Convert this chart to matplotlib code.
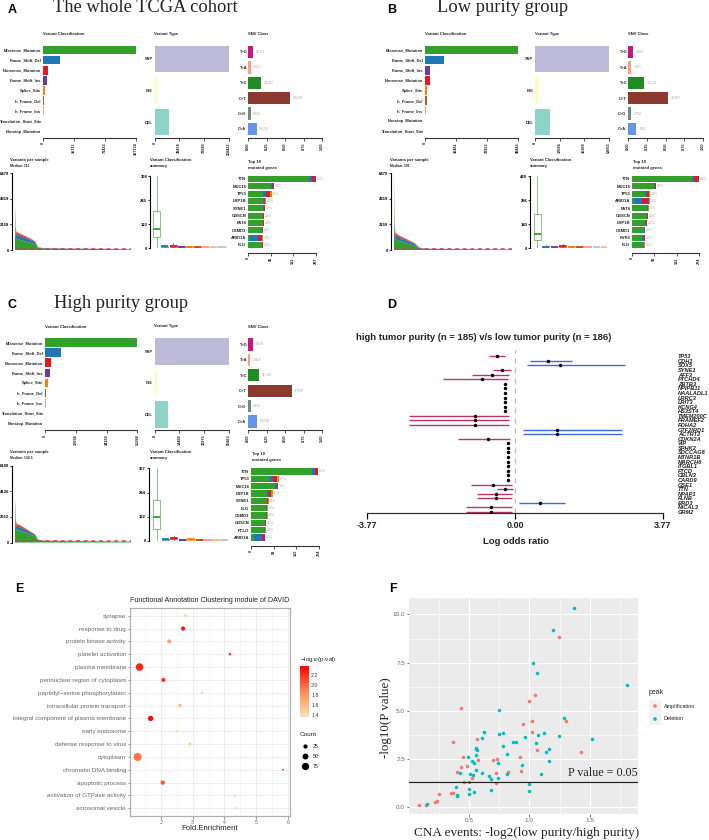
#coding=utf8
import numpy as np
import matplotlib
matplotlib.use('Agg')
import matplotlib.pyplot as plt
from matplotlib.colors import LinearSegmentedColormap, Normalize

plt.rcParams['font.family'] = 'Liberation Sans'
plt.rcParams['mathtext.default'] = 'regular'

W, H = 709, 840

# colours of the variant classes
class_colors = {'Missense_Mutation': '#33A02C', 'Frame_Shift_Del': '#1F78B4', 'Nonsense_Mutation': '#E31A1C',
                'Frame_Shift_Ins': '#6A3D9A', 'Splice_Site': '#FF7F00', 'In_Frame_Del': '#B15928',
                'In_Frame_Ins': '#FB9A99', 'Translation_Start_Site': '#FDBF6F', 'Nonstop_Mutation': '#A6CEE3'}
type_names = ['SNP', 'INS', 'DEL']
type_colors = ['#BEBADA', '#FFFFB3', '#8DD3C7']
snv_names = ['T>G', 'T>A', 'T>C', 'C>T', 'C>G', 'C>A']
snv_colors = ['#CE1480', '#FFA07A', '#228B22', '#8B3A2F', '#708C80', '#6495ED']
stack_names = ['Missense_Mutation', 'Frame_Shift_Del', 'Nonsense_Mutation', 'Frame_Shift_Ins', 'Splice_Site']

# panel A, whole cohort
a_class_names = ['Missense_Mutation', 'Frame_Shift_Del', 'Nonsense_Mutation', 'Frame_Shift_Ins', 'Splice_Site',
                 'In_Frame_Del', 'In_Frame_Ins', 'Translation_Start_Site', 'Nonstop_Mutation']
a_class_vals = [107134, 20000, 5700, 5000, 2800, 1600, 700, 200, 150]
a_class_ticks = [0, 35711, 71422, 107134]
a_type_vals = [118423, 4500, 22300]
a_type_ticks = [0, 39474, 78949, 118423]
a_snv_vals = [11371, 5553, 29107, 93249, 5855, 19135]
a_tmb_ticks = [0, 2159, 4319, 6479]
a_median = 111
a_rank = [0, 1, 3, 4, 6, 17, 33, 49, 65, 75, 91, 166, 273, 371]
a_miss = [4400, 2500, 1300, 1100, 950, 850, 720, 620, 500, 170, 135, 105, 85, 50]
a_fsd = [900, 600, 300, 300, 320, 300, 280, 230, 150, 30, 20, 15, 8, 5]
a_non = [300, 200, 120, 100, 110, 100, 90, 70, 50, 12, 8, 5, 4, 3]
a_fsi = [300, 200, 100, 100, 90, 90, 70, 50, 30, 8, 4, 3, 2, 1]
a_spl = [579, 300, 80, 100, 80, 60, 40, 30, 20, 10, 3, 2, 1, 1]
a_box_names = ['Missense_Mutation', 'Frame_Shift_Del', 'Nonsense_Mutation', 'Frame_Shift_Ins', 'Splice_Site',
               'In_Frame_Del', 'In_Frame_Ins', 'Translation_Start_Site', 'Nonstop_Mutation']
a_box_main = [0, 56, 96, 188, 368]
a_box_small = [8, 12, 6, 6, 6, 5, 5, 4, 4]
a_box_ticks = [0, 122, 245, 368]
a_genes = ['TTN', 'MUC16', 'TP53', 'LRP1B', 'SYNE1', 'OBSCN', 'FAT4', 'CSMD3', 'ARID1A', 'FLG']
a_gene_miss = [258, 98, 63, 64, 64, 62, 62, 58, 10, 58]
a_gene_fsd = [11, 4, 13, 3, 3, 2, 2, 2, 31, 2]
a_gene_non = [14, 3, 15, 5, 4, 2, 2, 3, 14, 2]
a_gene_fsi = [2, 6, 1, 0, 0, 0, 0, 0, 6, 0]
a_gene_spl = [2, 0, 8, 4, 2, 1, 1, 1, 3, 1]
a_gene_pct = ['55%', '34%', '40%', '28%', '20%', '24%', '23%', '24%', '24%', '22%']
a_gene_ticks = [0, 96, 191, 287]

# panel B, low purity
b_class_names = ['Missense_Mutation', 'Frame_Shift_Del', 'Frame_Shift_Ins', 'Nonsense_Mutation', 'Splice_Site',
                 'In_Frame_Del', 'In_Frame_Ins', 'Nonstop_Mutation', 'Translation_Start_Site']
b_class_vals = [49443, 10300, 2500, 2400, 1300, 800, 400, 100, 150]
b_class_ticks = [0, 16481, 32962, 49443]
b_type_vals = [53053, 2400, 10900]
b_type_ticks = [0, 17684, 35368, 53053]
b_snv_vals = [5183, 3291, 16132, 40367, 2752, 7901]
b_tmb_ticks = [0, 2159, 4319, 6479]
b_median = 101
b_rank = [0, 1, 2, 3, 5, 17, 33, 49, 65, 80, 100, 166, 273, 371]
b_miss = [4300, 2400, 1500, 1100, 900, 750, 620, 500, 380, 150, 90, 75, 60, 40]
b_fsd = [1000, 500, 400, 350, 300, 270, 230, 180, 130, 35, 15, 10, 6, 4]
b_non = [300, 200, 120, 110, 100, 90, 80, 60, 40, 10, 6, 4, 3, 2]
b_fsi = [300, 150, 100, 100, 90, 80, 60, 40, 30, 8, 3, 2, 2, 1]
b_spl = [579, 300, 100, 100, 80, 50, 40, 30, 20, 7, 3, 2, 1, 1]
b_box_names = ['Missense_Mutation', 'Frame_Shift_Del', 'Frame_Shift_Ins', 'Nonsense_Mutation', 'Splice_Site',
               'In_Frame_Del', 'In_Frame_Ins', 'Nonstop_Mutation', 'Translation_Start_Site']
b_box_main = [0, 46, 84, 205, 429]
b_box_small = [8, 6, 13, 7, 7, 6, 4, 4, 5]
b_box_ticks = [0, 143, 286, 429]
b_genes = ['TTN', 'MUC16', 'TP53', 'ARID1A', 'FAT4', 'OBSCN', 'LRP1B', 'CSMD1', 'RYR2', 'FLG']
b_gene_miss = [244, 91, 52, 7, 63, 60, 54, 51, 41, 47]
b_gene_fsd = [10, 4, 9, 34, 2, 2, 2, 1, 10, 2]
b_gene_non = [15, 2, 10, 20, 2, 2, 4, 1, 1, 2]
b_gene_fsi = [3, 2, 0, 7, 0, 0, 0, 0, 0, 0]
b_gene_spl = [2, 0, 4, 4, 1, 1, 1, 1, 1, 1]
b_gene_pct = ['60%', '30%', '24%', '24%', '20%', '20%', '24%', '22%', '20%', '21%']
b_gene_ticks = [0, 91, 182, 274]

# panel C, high purity
c_class_names = ['Missense_Mutation', 'Frame_Shift_Del', 'Nonsense_Mutation', 'Frame_Shift_Ins', 'Splice_Site',
                 'In_Frame_Del', 'In_Frame_Ins', 'Translation_Start_Site', 'Nonstop_Mutation']
c_class_vals = [51284, 8850, 3300, 2770, 1400, 800, 300, 100, 60]
c_class_ticks = [0, 17094, 34188, 51284]
c_type_vals = [55463, 2200, 9700]
c_type_ticks = [0, 18488, 36975, 55463]
c_snv_vals = [5830, 2364, 11749, 47268, 2833, 10238]
c_tmb_ticks = [0, 2063, 4126, 6189]
c_median = 134.5
c_rank = [0, 1, 3, 4, 6, 17, 33, 49, 65, 75, 91, 166, 273, 371]
c_miss = [4000, 2400, 1500, 1200, 1000, 950, 800, 650, 500, 180, 130, 110, 90, 60]
c_fsd = [900, 500, 300, 300, 300, 260, 220, 170, 110, 30, 15, 10, 6, 4]
c_non = [400, 200, 150, 120, 100, 90, 70, 50, 30, 10, 6, 4, 3, 2]
c_fsi = [300, 200, 100, 100, 80, 70, 50, 30, 20, 6, 3, 2, 1, 1]
c_spl = [589, 300, 100, 80, 70, 50, 30, 20, 10, 4, 2, 1, 1, 1]
c_box_names = a_class_names
c_box_main = [0, 60, 121, 208, 367]
c_box_small = [6, 12, 5, 6, 5, 5, 5, 4, 4]
c_box_ticks = [0, 122, 244, 367]
c_genes = ['TTN', 'TP53', 'MUC16', 'LRP1B', 'SYNE1', 'FLG', 'CSMD3', 'OBSCN', 'PCLO', 'ARID1A']
c_gene_miss = [246, 71, 97, 64, 63, 62, 62, 56, 54, 13]
c_gene_fsd = [11, 16, 8, 8, 2, 2, 2, 2, 2, 30]
c_gene_non = [11, 16, 2, 8, 4, 2, 2, 2, 2, 8]
c_gene_fsi = [2, 3, 3, 0, 0, 0, 0, 0, 0, 4]
c_gene_spl = [1, 8, 0, 7, 2, 1, 1, 2, 1, 3]
c_gene_pct = ['61%', '37%', '38%', '31%', '32%', '23%', '28%', '26%', '22%', '20%']
c_gene_ticks = [0, 91, 182, 274]

# panel D, forest plot
d_genes = ['TP53', 'CDH1', 'SOX5', 'SYNE1', 'AFF3', 'PTCHD4', 'ZBTB3', 'NPIPB11', 'NAALADL1', 'LRRC3', 'LRIT3', 'KCNG4',
           'HS3ST4', 'TMEM200C', 'PRAMEF2', 'PDHA2', 'GTF2IRD1', 'ACTRT2', 'CDKN2A', 'VIP', 'SPHK2', 'SDCCAG8', 'MTNR1B',
           'MARCH6', 'ITGBL1', 'FTCD', 'CBLN3', 'CARD9', 'GSE1', 'TTN', 'NPAP1', 'FLNB', 'BRD3', 'MICAL3', 'GRM2']
d_or = [-0.45, 0.85, 1.14, -0.33, -0.58, -0.845, -0.25, -0.25, -0.25, -0.25, -0.25, -0.25, -0.25, -1.02, -1.02, -1.02,
        1.07, 1.07, -0.70, -0.17, -0.17, -0.17, -0.17, -0.17, -0.17, -0.17, -0.17, -0.17, -0.56, -0.25, -0.495, -0.495,
        0.63, -0.605, -0.605]
d_low = [-0.66, 0.37, 0.30, -0.56, -1.09, -1.83, None, None, None, None, None, None, None, -2.69, -2.69, -2.69,
         0.20, 0.20, -1.46, None, None, None, None, None, None, None, None, None, -1.13, -0.45, -0.96, -0.96,
         0.11, -1.245, -1.245]
d_high = [-0.25, 1.46, 2.80, -0.10, -0.145, -0.17, None, None, None, None, None, None, None, -0.145, -0.145, -0.145,
          2.72, 2.72, -0.12, None, None, None, None, None, None, None, None, None, -0.085, -0.04, -0.07, -0.07,
          1.27, -0.077, -0.077]

# panel E, DAVID clusters
e_terms = ['synapse', 'response to drug', 'protein kinase activity', 'platelet activation', 'plasma membrane',
           'perinuclear region of cytoplasm', 'peptidyl\u2212serine phosphorylation', 'intracellular protein transport',
           'integral component of plasma membrane', 'early endosome', 'defense response to virus', 'cytoplasm',
           'chromatin DNA binding', 'apoptotic process', 'activation of GTPase activity', 'acrosomal vesicle']
e_fold = [2.78, 2.70, 2.26, 4.17, 1.33, 2.08, 3.29, 2.60, 1.68, 2.51, 2.91, 1.27, 5.84, 2.06, 4.33, 4.37]
e_logp = [1.4, 2.3, 1.75, 2.15, 2.25, 2.2, 1.45, 1.6, 2.35, 1.4, 1.5, 1.95, 2.0, 2.05, 1.45, 1.45]
e_count = [15, 25, 22, 10, 80, 25, 8, 15, 40, 12, 12, 90, 6, 27, 7, 6]
e_count_keys = [25, 50, 75]

# panel F, CNA events
f_amp_x = [1.243, 1.05, 1.0, 0.436, 0.95, 1.30, 1.02, 1.02, 0.566, 0.37, 1.06, 1.43, 0.447, 0.923, 0.577, 0.735, 0.696,
           0.486, 0.436, 0.40, 0.727, 0.823, 0.931, 0.525, 0.497, 0.461, 0.724, 0.251, 0.351, 0.365, 0.235, 0.215,
           0.144, 0.086]
f_amp_y = [8.84, 5.83, 5.53, 5.14, 4.33, 4.48, 4.48, 3.91, 3.53, 3.38, 2.95, 2.86, 2.60, 2.60, 2.47, 2.50, 2.45,
           2.12, 2.07, 1.83, 1.79, 1.83, 1.88, 1.50, 1.31, 1.33, 1.24, 0.69, 0.72, 0.74, 0.34, 0.26,
           0.14, 0.14]
f_del_x = [1.373, 1.199, 1.028, 1.061, 1.812, 0.746, 1.29, 0.624, 0.749, 0.782, 0.605, 0.961, 1.072, 1.124, 1.243, 1.519,
           1.052, 0.782, 0.867, 0.887, 0.558, 0.561, 0.566, 0.818, 1.135, 1.166, 0.489, 0.558, 0.522, 0.541, 0.738,
           0.936, 1.163, 0.558, 0.608, 0.428, 0.506, 0.53, 1.10, 0.815, 0.669, 0.738, 0.68, 1.0, 0.395, 0.497, 0.685,
           1.0, 0.503, 0.544, 0.403, 0.403, 0.149]
f_del_y = [10.31, 9.17, 7.48, 6.95, 6.34, 5.05, 4.62, 3.90, 3.78, 3.84, 3.57, 3.66, 3.74, 3.86, 3.67, 3.55,
           3.31, 3.17, 3.36, 3.40, 3.09, 3.03, 2.95, 2.78, 2.84, 3.0, 2.62, 2.69, 2.41, 2.31, 2.29,
           2.21, 2.40, 1.91, 1.79, 1.76, 1.74, 1.69, 1.74, 1.72, 1.62, 1.53, 1.45, 1.22, 1.03, 0.95, 0.90,
           0.83, 0.67, 0.78, 0.62, 0.59, 0.19]
f_cut = 1.3

fig = plt.figure(figsize=(W / 100.0, H / 100.0), dpi=100)


# axes from pixel box of the picture
def axpx(x0, y0, x1, y1):
    return fig.add_axes([x0 / W, 1 - y1 / H, (x1 - x0) / W, (y1 - y0) / H])


# axes whose integer y values are rows at given pixels
def rowax(x0, x1, yfirst, ylast, n, ytop, ybot):
    ax = axpx(x0, ytop, x1, ybot)
    step = (ylast - yfirst) / float(n - 1)
    ax.set_ylim((ybot - yfirst) / step, (ytop - yfirst) / step)
    for s in ['top', 'left', 'right']:
        ax.spines[s].set_visible(False)
    ax.spines['bottom'].set_linewidth(0.8)
    ax.spines['bottom'].set_color('#333333')
    ax.patch.set_alpha(0)
    return ax


def smallticks(ax, ticks):
    ax.set_xticks(ticks)
    ax.set_xticklabels([str(t) for t in ticks], rotation=90, fontsize=2.8, fontweight='bold', color='#222222')
    ax.tick_params(axis='x', length=2, width=0.6, pad=1, color='#333333')
    ax.tick_params(axis='y', length=0, pad=1.2, labelsize=2.9, labelcolor='#222222')
    for lab in ax.get_yticklabels():
        lab.set_fontweight('bold')


# one block of maf summary, box holds the pixel places
def maf_block(box, class_names, class_vals, class_ticks, type_vals, type_ticks, snv_vals, tmb_ticks, median,
              rank, stacks, box_names, box_main, box_small, box_ticks, genes, gene_parts, gene_pct, gene_ticks):
    dy = box['dy']
    # variant classification
    x0, x1 = box['cls']
    ax = rowax(x0, x1, 50 + dy, 131 + dy, 9, 44 + dy, 138 + dy)
    ax.barh(range(9), class_vals, height=0.84, color=[class_colors[n] for n in class_names])
    ax.set_xlim(0, class_ticks[-1])
    ax.set_yticks(range(9))
    ax.set_yticklabels(class_names)
    smallticks(ax, class_ticks)
    # variant type
    x0, x1 = box['typ']
    ax = rowax(x0, x1, 59 + dy, 122 + dy, 3, 44 + dy, 138 + dy)
    ax.barh(range(3), type_vals, height=0.84, color=type_colors)
    ax.set_xlim(0, type_ticks[-1])
    ax.set_yticks(range(3))
    ax.set_yticklabels(type_names)
    smallticks(ax, type_ticks)
    # snv class
    x0, x1 = box['snv']
    ax = rowax(x0, x1, 52 + dy, 129 + dy, 6, 44 + dy, 138 + dy)
    frac = np.array(snv_vals, dtype=float) / sum(snv_vals)
    ax.barh(range(6), frac, height=0.8, color=snv_colors)
    ax.set_xlim(0, 1)
    for i in range(6):
        ax.text(frac[i] + 0.035, i, str(snv_vals[i]), fontsize=2.6, color='#aaaaaa', va='center')
    ax.set_yticks(range(6))
    ax.set_yticklabels(snv_names)
    ticks = [0, 0.25, 0.5, 0.75, 1]
    smallticks(ax, ticks)
    ax.set_xticklabels(['0.00', '0.25', '0.50', '0.75', '1.00'])
    # variants per sample
    x0, x1 = box['tmb']
    ax = axpx(x0, 173.3 + dy, x1, 250 + dy)
    ax.stackplot(rank, *stacks, colors=[class_colors[n] for n in stack_names], linewidth=0)
    ax.axhline(median, color='#D6336C', lw=1.1, ls=(0, (2.5, 2.5)), clip_on=False, zorder=5)
    ax.set_xlim(0, rank[-1])
    ax.set_ylim(0, tmb_ticks[-1])
    for s in ['top', 'right', 'bottom']:
        ax.spines[s].set_visible(False)
    ax.spines['left'].set_position(('outward', 2))
    ax.spines['left'].set_linewidth(0.8)
    ax.set_xticks([])
    ax.set_yticks(tmb_ticks)
    ax.set_yticklabels([str(t) for t in tmb_ticks], fontsize=3.0, fontweight='bold')
    ax.tick_params(axis='y', length=1.5, width=0.6, pad=0.5)
    # classification summary
    x0, x1, first, last = box['box']
    ax = axpx(x0, 176 + dy, x1, 248 + dy)
    step = (last - first) / 8.0
    stats = [dict(whislo=box_main[0], q1=box_main[1], med=box_main[2], q3=box_main[3], whishi=box_main[4], fliers=[])]
    for m in box_small:
        stats.append(dict(whislo=1, q1=m * 0.5, med=m, q3=m * 1.4, whishi=m * 2, fliers=[]))
    for i in range(9):
        c = class_colors[box_names[i]]
        b = ax.bxp([stats[i]], positions=[i + 1], widths=0.86, showcaps=False, showfliers=False, patch_artist=True)
        if i == 0:
            b['boxes'][0].set(facecolor='white', edgecolor=c, lw=0.7, alpha=0.6)
            b['whiskers'][0].set(color=c, lw=0.7, alpha=0.6)
            b['whiskers'][1].set(color=c, lw=0.7, alpha=0.6)
        else:
            b['boxes'][0].set(facecolor=c, edgecolor=c, lw=0.5, alpha=0.75)
            b['whiskers'][0].set(color=c, lw=0.5)
            b['whiskers'][1].set(color=c, lw=0.5)
        b['medians'][0].set(color=c, lw=1.3)
    ax.set_xlim(1 - (first - x0) / step, 1 + (x1 - first) / step)
    ax.set_ylim(0, box_ticks[-1])
    for s in ['top', 'right', 'bottom']:
        ax.spines[s].set_visible(False)
    ax.spines['left'].set_linewidth(0.8)
    ax.set_xticks([])
    ax.set_yticks(box_ticks)
    ax.set_yticklabels([str(t) for t in box_ticks], fontsize=3.0, fontweight='bold')
    ax.tick_params(axis='y', length=1.5, width=0.6, pad=0.5)
    # top genes
    x0, x1 = box['gene']
    ax = rowax(x0, x1, 179 + dy, 245 + dy, 10, 174 + dy, 253 + dy)
    left = np.zeros(10)
    for name, part in zip(stack_names, [gene_parts[0], gene_parts[1], gene_parts[2], gene_parts[3], gene_parts[4]]):
        ax.barh(range(10), part, left=left, height=0.86, color=class_colors[name])
        left = left + np.array(part)
    for i in range(10):
        ax.text(left[i] + gene_ticks[-1] * 0.01, i, gene_pct[i], fontsize=2.6, color='#aaaaaa', va='center')
    ax.set_xlim(0, gene_ticks[-1])
    ax.set_yticks(range(10))
    ax.set_yticklabels(genes)
    smallticks(ax, gene_ticks)
    for lab in ax.get_yticklabels():
        lab.set_fontsize(3.0)


box_a = dict(dy=0, cls=(43, 136), typ=(154.5, 229), snv=(248, 322), tmb=(14.7, 131), box=(150, 228, 156.7, 222), gene=(248, 316))
box_b = dict(dy=0, cls=(425, 518), typ=(535, 609), snv=(628, 703), tmb=(394, 512), box=(530, 607, 537.3, 605), gene=(632, 699))
box_c = dict(dy=292.5, cls=(45, 137.5), typ=(154.5, 229), snv=(248, 322), tmb=(14.7, 131), box=(148.5, 228, 156.7, 225), gene=(251, 319))

maf_block(box_a, a_class_names, a_class_vals, a_class_ticks, a_type_vals, a_type_ticks, a_snv_vals, a_tmb_ticks, a_median,
          a_rank, [a_miss, a_fsd, a_non, a_fsi, a_spl], a_box_names, a_box_main, a_box_small, a_box_ticks,
          a_genes, [a_gene_miss, a_gene_fsd, a_gene_non, a_gene_fsi, a_gene_spl], a_gene_pct, a_gene_ticks)
maf_block(box_b, b_class_names, b_class_vals, b_class_ticks, b_type_vals, b_type_ticks, b_snv_vals, b_tmb_ticks, b_median,
          b_rank, [b_miss, b_fsd, b_non, b_fsi, b_spl], b_box_names, b_box_main, b_box_small, b_box_ticks,
          b_genes, [b_gene_miss, b_gene_fsd, b_gene_non, b_gene_fsi, b_gene_spl], b_gene_pct, b_gene_ticks)
maf_block(box_c, c_class_names, c_class_vals, c_class_ticks, c_type_vals, c_type_ticks, c_snv_vals, c_tmb_ticks, c_median,
          c_rank, [c_miss, c_fsd, c_non, c_fsi, c_spl], c_box_names, c_box_main, c_box_small, c_box_ticks,
          c_genes, [c_gene_miss, c_gene_fsd, c_gene_non, c_gene_fsi, c_gene_spl], c_gene_pct, c_gene_ticks)

# panel D
ax = rowax(367, 663, 356.3, 512, 35, 350, 513)
ax.set_xlim(-3.77, 3.77)
ax.axvline(0, color='#bbbbbb', lw=0.9, ls=(0, (4, 4)))
for i in range(35):
    if d_low[i] is not None:
        col = '#4169E1' if d_or[i] > 0 else '#BC3468'
        ax.plot([d_low[i], d_high[i]], [i, i], color=col, lw=1.0, solid_capstyle='butt')
    ax.plot(d_or[i], i, 'o', color='black', ms=2.5, mew=0, zorder=3)
ax.set_xticks([-3.77, 0, 3.77])
ax.set_xticklabels(['-3.77', '0.00', '3.77'], fontsize=6.5, fontweight='bold', color='#222222')
ax.tick_params(axis='x', length=4, width=0.9, pad=2)
ax.spines['bottom'].set_linewidth(0.9)
ax.yaxis.tick_right()
ax.set_yticks(range(35))
ax.set_yticklabels(d_genes, fontsize=4.1, fontweight='bold', fontstyle='italic', color='#222222')
ax.tick_params(axis='y', length=0, pad=10.8)

# panel E
cmap_e = LinearSegmentedColormap.from_list('e', ['#FCE3B4', '#FF8A50', '#FF0000'])
norm_e = Normalize(1.36, 2.38)
ax = axpx(130, 608, 290, 816)
ypos = np.arange(16)
ax.scatter(e_fold, ypos, s=np.array(e_count) * 0.37, c=e_logp, cmap=cmap_e, norm=norm_e, linewidths=0, zorder=3)
ax.set_xlim(1.03, 6.06)
ax.set_ylim(15.6, -0.6)
ax.set_xticks([2, 3, 4, 5, 6])
ax.set_xticks([1.5, 2.5, 3.5, 4.5, 5.5], minor=True)
ax.set_yticks(ypos)
ax.set_yticklabels(e_terms)
ax.grid(True, which='major', color='#ebebeb', lw=0.6)
ax.grid(True, which='minor', axis='x', color='#f2f2f2', lw=0.4)
ax.set_axisbelow(True)
ax.tick_params(axis='both', which='major', labelsize=4.5, labelcolor='#666666', color='#666666', length=1.8, width=0.5, pad=1)
ax.tick_params(axis='x', labelsize=3.8)
ax.tick_params(axis='both', which='minor', length=0)
for s in ax.spines.values():
    s.set_color('#b0b0b0')
    s.set_linewidth(0.9)
cax = axpx(300, 666, 309, 717)
sm = plt.cm.ScalarMappable(norm=norm_e, cmap=cmap_e)
cb = fig.colorbar(sm, cax=cax)
cb.set_ticks([1.4, 1.6, 1.8, 2.0, 2.2])
cb.ax.tick_params(length=0, labelsize=3.8, pad=1.5, labelcolor='#333333')
cb.outline.set_visible(False)

# panel F
ax = axpx(409, 598, 638, 814)
ax.set_facecolor('#EBEBEB')
ax.scatter(f_amp_x, f_amp_y, s=6.5, color='#F8766D', linewidths=0, zorder=3)
ax.scatter(f_del_x, f_del_y, s=6.5, color='#00BFC4', linewidths=0, zorder=3)
ax.axhline(f_cut, color='#222222', lw=0.9, zorder=4)
ax.set_xlim(0.003, 1.9)
ax.set_ylim(-0.35, 10.85)
ax.set_xticks([0.5, 1.0, 1.5])
ax.set_xticks([0.25, 0.75, 1.25, 1.75], minor=True)
ax.set_yticks([0, 2.5, 5, 7.5, 10])
ax.set_yticks([1.25, 3.75, 6.25, 8.75], minor=True)
ax.set_xticklabels(['0.5', '1.0', '1.5'])
ax.set_yticklabels(['0.0', '2.5', '5.0', '7.5', '10.0'])
ax.grid(True, which='major', color='white', lw=0.8)
ax.grid(True, which='minor', color='white', lw=0.4)
ax.set_axisbelow(True)
ax.tick_params(axis='both', which='major', labelsize=4.6, labelcolor='#666666', color='#444444', length=1.8, width=0.5, pad=1)
ax.tick_params(axis='both', which='minor', length=0)
for s in ax.spines.values():
    s.set_visible(False)

# all the loose text and legend keys go on one overlay in picture pixels
page = fig.add_axes([0, 0, 1, 1], zorder=10)
page.set_xlim(0, W)
page.set_ylim(H, 0)
page.axis('off')
page.patch.set_alpha(0)


def txt(x, y, s, size=3.0, weight='normal', color='#222222', ha='left', family=None, **kw):
    page.text(x, y, s, fontsize=size, fontweight=weight, color=color, ha=ha, va='center', family=family, **kw)


for x, y, s in [(8, 10, 'A'), (387, 10, 'B'), (8, 305, 'C'), (387, 305, 'D'), (15, 589, 'E'), (389, 589, 'F')]:
    txt(x, y, s, size=9, weight='bold', color='black')
txt(53, 7, 'The whole TCGA cohort', size=13.3, family='Liberation Serif')
txt(437, 7, 'Low purity group', size=13.3, family='Liberation Serif')
txt(54, 304, 'High purity group', size=13.3, family='Liberation Serif')

for xc, xt, xs, dy in [(43, 154, 248, 0), (425, 535, 628, 0), (45, 154, 248, 292.5)]:
    txt(xc, 34 + dy, 'Variant Classification', weight='bold')
    txt(xt, 34 + dy, 'Variant Type', weight='bold')
    txt(xs, 34 + dy, 'SNV Class', weight='bold')
for x1, x2, x3, y3, dy, med in [(10, 150, 248, 162, 0, '111'), (390, 530, 633, 162, 0, '101'), (10, 150, 252, 454, 292, '134.5')]:
    txt(x1, 160 + dy, 'Variants per sample', weight='bold')
    txt(x1, 166 + dy, 'Median: ' + med, size=2.4, weight='bold')
    txt(x2, 160 + dy, 'Variant Classification', weight='bold')
    txt(x2, 166 + dy, 'summary', weight='bold')
    txt(x3, y3, 'Top 10', weight='bold')
    txt(x3, y3 + 6, 'mutated genes', weight='bold')

txt(356, 338, 'high tumor purity (n = 185) v/s low tumor purity (n = 186)', size=6.8, weight='bold')
txt(515.7, 541, 'Log odds ratio', size=6.8, weight='bold', ha='center')

txt(210, 600, 'Functional Annotation Clustering module of DAVID', size=5.1, ha='center')
txt(210, 829, 'Fold.Enrichment', size=5.6, ha='center')
txt(300, 659, '\u2212log$_{10}$(p.val)', size=4.6)
txt(300, 734, 'Count', size=4.6)
for i in range(3):
    page.scatter(304.5, 746 + 10.2 * i, s=e_count_keys[i] * 0.37, color='black', linewidths=0)
    txt(313, 746 + 10.2 * i, str(e_count_keys[i]), size=3.8)

txt(638, 773, 'P value = 0.05', size=8.7, ha='right', family='Liberation Serif')
txt(414, 833, 'CNA events: -log2(low purity/high purity)', size=9.5, family='Liberation Serif')
txt(386, 718, '-log10(P value)', size=9.4, ha='center', family='Liberation Serif', rotation=90, rotation_mode='anchor')
txt(649, 693, 'peak', size=5)
page.fill_between([649, 661], 700, 725, color='#F2F2F2', linewidth=0)
page.scatter([655, 655], [706, 719], s=7, color=['#F8766D', '#00BFC4'], linewidths=0)
txt(664, 706.5, 'Amplification', size=4)
txt(664, 719, 'Deletion', size=4)

fig.savefig('out.png', dpi=100)
